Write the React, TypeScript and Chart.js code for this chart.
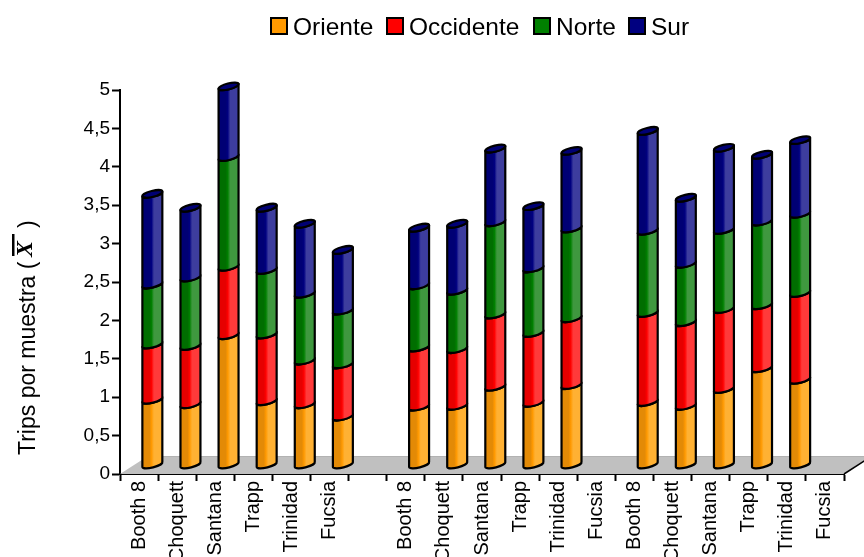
import React, { useEffect, useRef } from "react";
import { Chart, registerables } from "chart.js";

Chart.register(...registerables);

const categories = [
  "Booth 8", "Choquett", "Santana", "Trapp", "Trinidad", "Fucsia", "",
  "Booth 8", "Choquett", "Santana", "Trapp", "Trinidad", "Fucsia",
  "Booth 8", "Choquett", "Santana", "Trapp", "Trinidad", "Fucsia",
];
const oriente = [0.85, 0.79, 1.69, 0.83, 0.79, 0.63, null, 0.76, 0.77, 1.02, 0.81, 1.04, null, 0.82, 0.77, 0.99, 1.26, 1.11, null];
const occidente = [0.72, 0.76, 0.89, 0.87, 0.57, 0.68, null, 0.77, 0.74, 0.94, 0.91, 0.87, null, 1.16, 1.09, 1.04, 0.82, 1.13, null];
const norte = [0.78, 0.89, 1.43, 0.84, 0.87, 0.7, null, 0.81, 0.76, 1.2, 0.84, 1.17, null, 1.07, 0.76, 1.03, 1.09, 1.03, null];
const sur = [1.18, 0.91, 0.92, 0.81, 0.91, 0.79, null, 0.75, 0.87, 0.96, 0.81, 1.01, null, 1.3, 0.86, 1.07, 0.87, 0.96, null];

const seriesNames = ["Oriente", "Occidente", "Norte", "Sur"];
const seriesColors = ["#ff9900", "#ff0000", "#008000", "#000080"];
const seriesDark = ["#e38a06", "#e60000", "#006e00", "#000074"];
const seriesLight = ["#ffb133", "#ff3a3a", "#3f983f", "#3d3d9e"];
const legendStarts = [271, 387, 534, 629];
const FONT = '"Liberation Sans", Arial, sans-serif';

const DEPTH_X = 28;
const DEPTH_Y = 18;
const BAR_DX = 13.3;
const BAR_DY = 9;
const ELL_B = 3;
const ELL_ROT = (-14 * Math.PI) / 180;

const cylinders = {
  id: "cylinders",
  beforeDatasetDraw() {
    return false;
  },
  beforeDatasetsDraw(chart: any) {
    const { ctx, chartArea: a } = chart;
    ctx.save();
    ctx.beginPath();
    ctx.moveTo(a.left, a.bottom);
    ctx.lineTo(a.right, a.bottom);
    ctx.lineTo(a.right + DEPTH_X, a.bottom - DEPTH_Y);
    ctx.lineTo(a.left + DEPTH_X, a.bottom - DEPTH_Y);
    ctx.closePath();
    ctx.fillStyle = "#c0c0c0";
    ctx.fill();
    ctx.beginPath();
    ctx.moveTo(a.left + DEPTH_X, a.bottom - DEPTH_Y + 0.5);
    ctx.lineTo(a.right + DEPTH_X, a.bottom - DEPTH_Y + 0.5);
    ctx.strokeStyle = "#b2b2b2";
    ctx.lineWidth = 1;
    ctx.stroke();
    ctx.beginPath();
    ctx.moveTo(a.right, a.bottom);
    ctx.lineTo(a.right + DEPTH_X, a.bottom - DEPTH_Y);
    ctx.strokeStyle = "#000";
    ctx.lineWidth = 1.5;
    ctx.stroke();
    ctx.restore();
  },
  afterDatasetsDraw(chart: any) {
    const { ctx } = chart;
    const last = chart.data.datasets.length - 1;
    chart.data.datasets.forEach((ds: any, i: number) => {
      chart.getDatasetMeta(i).data.forEach((bar: any, j: number) => {
        if (ds.data[j] == null) return;
        const cx = bar.x + BAR_DX;
        const yt = bar.y - BAR_DY;
        const yb = bar.base - BAR_DY;
        const r = bar.width / 2;
        const g = ctx.createLinearGradient(cx - r, 0, cx + r, 0);
        g.addColorStop(0, seriesDark[i]);
        g.addColorStop(0.36, seriesDark[i]);
        g.addColorStop(0.46, seriesColors[i]);
        g.addColorStop(0.58, seriesLight[i]);
        g.addColorStop(1, seriesLight[i]);
        ctx.save();
        ctx.beginPath();
        ctx.ellipse(cx, yb, r, ELL_B, ELL_ROT, 0, Math.PI, false);
        ctx.ellipse(cx, yt, r, ELL_B, ELL_ROT, Math.PI, 0, true);
        ctx.closePath();
        ctx.fillStyle = g;
        ctx.fill();
        ctx.strokeStyle = "#000";
        ctx.lineWidth = 2.2;
        ctx.lineJoin = "round";
        ctx.stroke();
        if (i === last) {
          ctx.beginPath();
          ctx.ellipse(cx, yt, r, ELL_B, ELL_ROT, 0, Math.PI * 2);
          ctx.fillStyle = seriesDark[i];
          ctx.fill();
          ctx.stroke();
        }
        ctx.restore();
      });
    });
  },
  afterDraw(chart: any) {
    const { ctx } = chart;
    ctx.save();
    // legend
    ctx.textBaseline = "alphabetic";
    ctx.textAlign = "left";
    ctx.font = `24.5px ${FONT}`;
    seriesNames.forEach((name, i) => {
      const x = legendStarts[i];
      ctx.fillStyle = seriesColors[i];
      ctx.fillRect(x, 18, 16, 16);
      ctx.strokeStyle = "#000";
      ctx.lineWidth = 2;
      ctx.strokeRect(x, 18, 16, 16);
      ctx.fillStyle = "#000";
      ctx.fillText(name, x + 22, 35);
    });
    // axis title
    ctx.translate(35, 455);
    ctx.rotate(-Math.PI / 2);
    ctx.fillStyle = "#000";
    ctx.font = `23px ${FONT}`;
    ctx.fillText("Trips por muestra (", 0, 0);
    ctx.fillText(")", 227, 0);
    ctx.font = `italic bold 24px "Liberation Serif", serif`;
    ctx.fillText("X", 198, -3);
    ctx.fillRect(199, -23, 22, 2.5);
    ctx.restore();
  },
};

export default function App() {
  const ref = useRef<HTMLCanvasElement>(null);
  useEffect(() => {
    document.body.style.margin = "0";
    const data = [oriente, occidente, norte, sur];
    const chart = new Chart(ref.current as HTMLCanvasElement, {
      type: "bar",
      plugins: [cylinders],
      data: {
        labels: categories,
        datasets: seriesNames.map((label, i) => ({
          label,
          data: data[i],
          backgroundColor: seriesColors[i],
          borderColor: "#000",
          barPercentage: 0.54,
          categoryPercentage: 1,
        })),
      },
      options: {
        responsive: false,
        animation: false,
        devicePixelRatio: 1,
        layout: { padding: { top: 90, right: 20, left: 0, bottom: 0 } },
        plugins: { legend: { display: false }, tooltip: { enabled: false }, title: { display: false } },
        scales: {
          x: {
            stacked: true,
            afterFit: (s: any) => {
              s.height = 83;
            },
            border: { display: true, color: "#000", width: 2 },
            grid: {
              offset: true,
              drawOnChartArea: false,
              drawTicks: true,
              tickLength: 7,
              tickWidth: 2,
              tickColor: "#000",
            },
            ticks: {
              autoSkip: false,
              minRotation: 90,
              maxRotation: 90,
              padding: 0,
              color: "#000",
              font: { family: FONT, size: 20 },
            },
          },
          y: {
            stacked: true,
            min: 0,
            max: 5,
            afterFit: (s: any) => {
              s.width = 120;
            },
            border: { display: true, color: "#000", width: 2 },
            grid: {
              drawOnChartArea: false,
              drawTicks: true,
              tickLength: 8,
              tickWidth: 2,
              tickColor: "#000",
            },
            ticks: {
              stepSize: 0.5,
              padding: 2,
              color: "#000",
              font: { family: FONT, size: 19 },
              callback: (v: any) => String(v).replace(".", ","),
            },
          },
        },
      },
    } as any);
    return () => chart.destroy();
  }, []);
  return <canvas ref={ref} width={864} height={557} style={{ display: "block" }} />;
}
